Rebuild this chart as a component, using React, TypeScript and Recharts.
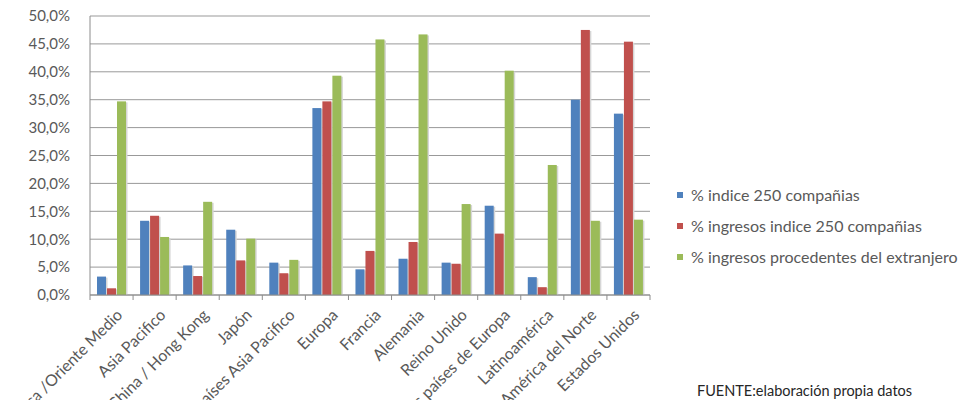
import React from 'react';
import { BarChart, Bar, XAxis, YAxis, CartesianGrid } from 'recharts';

const categories = [
  'África /Oriente Medio',
  'Asia Pacifico',
  'China / Hong Kong',
  'Japón',
  'Otros países Asia Pacifico',
  'Europa',
  'Francia',
  'Alemania',
  'Reino Unido',
  'Otros países de Europa',
  'Latinoamérica',
  'América del Norte',
  'Estados Unidos',
];

const indice250 = [3.3, 13.3, 5.3, 11.7, 5.8, 33.5, 4.6, 6.5, 5.8, 16.0, 3.2, 35.0, 32.5];
const ingresosIndice = [1.2, 14.2, 3.4, 6.2, 3.9, 34.7, 7.9, 9.5, 5.6, 11.0, 1.4, 47.5, 45.4];
const ingresosExtranjero = [34.7, 10.4, 16.7, 10.1, 6.3, 39.3, 45.8, 46.7, 16.3, 40.2, 23.3, 13.3, 13.5];

const yTicks = [0, 5, 10, 15, 20, 25, 30, 35, 40, 45, 50];

const seriesNames = [
  '% indice 250 compañias',
  '% ingresos indice 250 compañias',
  '% ingresos procedentes del extranjero',
];
const COLORS = ['#4F81BD', '#C0504D', '#9BBB59'];

const data = categories.map((name, i) => ({
  name,
  a: indice250[i],
  b: ingresosIndice[i],
  c: ingresosExtranjero[i],
}));

const FONT = 'Lato, "Open Sans", sans-serif';
const TEXT = '#595959';
const BAND = 560 / categories.length;

const CategoryTick = (props: any) => {
  const { x, y, payload, index } = props;
  const isLast = index === categories.length - 1;
  const ax = x + 12;
  const ay = y + 21;
  return (
    <g>
      <line x1={x - BAND / 2} y1={y} x2={x - BAND / 2} y2={y + 5} stroke="#8c8c8c" />
      {isLast && <line x1={x + BAND / 2} y1={y} x2={x + BAND / 2} y2={y + 5} stroke="#8c8c8c" />}
      <text
        x={ax}
        y={ay}
        transform={`rotate(-45 ${ax} ${ay})`}
        textAnchor="end"
        fill={TEXT}
        fontSize={16}
        fontFamily={FONT}
      >
        {payload.value}
      </text>
    </g>
  );
};

// bar with a faint shadow on its right side, like the spreadsheet original
const ShadowBar = (props: any) => {
  const { x, y, width, height, fill } = props;
  if (!height || height <= 0) return null;
  return (
    <g>
      <rect x={x + 1.5} y={y + 1} width={width} height={height - 1} fill="#d6d6d6" />
      <rect x={x} y={y} width={width} height={height} fill={fill} />
    </g>
  );
};

export default function App() {
  return (
    <div style={{ position: 'absolute', left: 0, top: 0, width: 960, height: 400, background: '#fff', overflow: 'hidden' }}>
      <BarChart
        width={960}
        height={400}
        data={data}
        margin={{ top: 16, right: 310, bottom: 0, left: 0 }}
        barCategoryGap={7}
        barGap={1}
      >
        <CartesianGrid vertical={false} stroke="#999999" />
        <XAxis
          dataKey="name"
          interval={0}
          height={105}
          tickLine={false}
          tickSize={0}
          tickMargin={0}
          axisLine={{ stroke: '#8c8c8c' }}
          tick={<CategoryTick />}
        />
        <YAxis
          width={90}
          domain={[0, 50]}
          ticks={yTicks}
          interval={0}
          tickLine={false}
          tickMargin={14}
          axisLine={{ stroke: '#8c8c8c' }}
          tickFormatter={(v: number) => v.toFixed(1).replace('.', ',') + '%'}
          tick={{ fill: TEXT, fontSize: 15, fontFamily: FONT }}
        />
        <Bar dataKey="a" name={seriesNames[0]} fill={COLORS[0]} barSize={9} shape={<ShadowBar />} isAnimationActive={false} />
        <Bar dataKey="b" name={seriesNames[1]} fill={COLORS[1]} barSize={9} shape={<ShadowBar />} isAnimationActive={false} />
        <Bar dataKey="c" name={seriesNames[2]} fill={COLORS[2]} barSize={9} shape={<ShadowBar />} isAnimationActive={false} />
      </BarChart>
      <div style={{ position: 'absolute', left: 677, top: 179, fontFamily: FONT, fontSize: 16, color: TEXT }}>
        {seriesNames.map((n, i) => (
          <div key={n} style={{ display: 'flex', alignItems: 'center', height: 31 }}>
            <span style={{ width: 6, height: 6, background: COLORS[i], marginRight: 8, display: 'inline-block' }} />
            <span>{n}</span>
          </div>
        ))}
      </div>
      <div style={{ position: 'absolute', left: 697, top: 382, fontFamily: FONT, fontSize: 14.5, color: '#262626' }}>
        FUENTE:elaboración propia datos
      </div>
    </div>
  );
}
